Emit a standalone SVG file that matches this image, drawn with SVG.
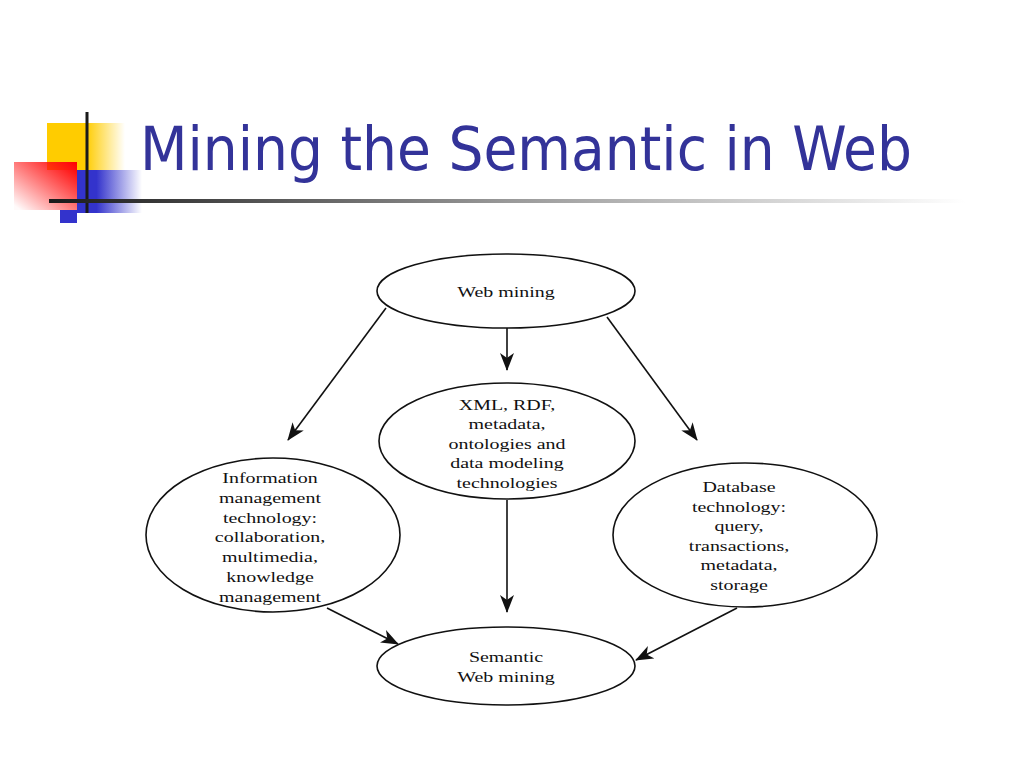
<svg xmlns="http://www.w3.org/2000/svg" width="1024" height="768" viewBox="0 0 1024 768">
<defs>
<linearGradient id="gYellow" x1="0" y1="0" x2="1" y2="0">
<stop offset="0" stop-color="#FFCC00"/>
<stop offset="0.5" stop-color="#FFCC00"/>
<stop offset="1" stop-color="#FFCC00" stop-opacity="0"/>
</linearGradient>
<linearGradient id="gRed" x1="1" y1="0" x2="0" y2="1">
<stop offset="0" stop-color="#FF0000"/>
<stop offset="0.1" stop-color="#FF1010"/>
<stop offset="0.95" stop-color="#FF0000" stop-opacity="0.02"/>
</linearGradient>
<linearGradient id="gBlue" x1="0" y1="0" x2="1" y2="0">
<stop offset="0" stop-color="#3333CC"/>
<stop offset="0.3" stop-color="#3333CC"/>
<stop offset="1" stop-color="#3333CC" stop-opacity="0"/>
</linearGradient>
<linearGradient id="gRule" x1="0" y1="0" x2="1" y2="0">
<stop offset="0" stop-color="#1a1a1a"/>
<stop offset="0.5" stop-color="#999999"/>
<stop offset="1" stop-color="#ffffff"/>
</linearGradient>
<marker id="ah" viewBox="0 0 18 14" refX="17" refY="7" markerWidth="18" markerHeight="14" orient="auto" markerUnits="userSpaceOnUse">
<path d="M0,0 L18,7 L0,14 L5,7 Z" fill="#111"/>
</marker>
<style>
.node ellipse { fill: #fff; stroke: #111; stroke-width: 1.6; }
.node text { font-family: "Liberation Serif", "Times New Roman", serif; font-size: 15.6px; fill: #111; text-anchor: middle; }
.conn line { stroke: #111; stroke-width: 1.6; marker-end: url(#ah); }
.title { font-family: "DejaVu Sans Condensed", "DejaVu Sans", sans-serif; font-size: 61px; fill: #333399; }
</style>
</defs>
<rect width="1024" height="768" fill="#fff"/>

<g id="logo">
<rect x="47" y="123" width="78" height="47" fill="url(#gYellow)"/>
<rect x="14" y="162" width="63" height="48" fill="url(#gRed)"/>
<rect x="77" y="170" width="65" height="43" fill="url(#gBlue)"/>
<rect x="60" y="210" width="17" height="13" fill="#3333CC"/>
<rect x="85.5" y="112" width="3" height="101" fill="#1a1a1a"/>
<rect x="49" y="199" width="916" height="4" fill="url(#gRule)"/>
</g>

<text class="title" x="140" y="170" textLength="772" lengthAdjust="spacingAndGlyphs">Mining the Semantic in Web</text>

<g id="connectors" class="conn">
<line x1="386" y1="308" x2="288" y2="440"/>
<line x1="507" y1="328" x2="507" y2="370"/>
<line x1="607" y1="317" x2="697" y2="440"/>
<line x1="507" y1="500" x2="507" y2="612"/>
<line x1="327" y1="608" x2="398" y2="644"/>
<line x1="737" y1="608" x2="636" y2="660"/>
</g>

<g id="web-mining" class="node">
<ellipse cx="506" cy="291" rx="129" ry="37"/>
<g transform="translate(506 0) scale(1.28 1)"><text x="0" y="297">Web mining</text></g>
</g>

<g id="xml-rdf" class="node">
<ellipse cx="507" cy="441" rx="128" ry="58"/>
<g transform="translate(507 0) scale(1.28 1)">
<text x="0" y="410">XML, RDF,</text>
<text x="0" y="429.5">metadata,</text>
<text x="0" y="449">ontologies and</text>
<text x="0" y="468.5">data modeling</text>
<text x="0" y="488">technologies</text>
</g>
</g>

<g id="info-mgmt" class="node">
<ellipse cx="273" cy="535" rx="127" ry="77"/>
<g transform="translate(270 0) scale(1.28 1)">
<text x="0" y="483">Information</text>
<text x="0" y="502.8">management</text>
<text x="0" y="522.6">technology:</text>
<text x="0" y="542.4">collaboration,</text>
<text x="0" y="562.2">multimedia,</text>
<text x="0" y="582">knowledge</text>
<text x="0" y="601.8">management</text>
</g>
</g>

<g id="database" class="node">
<ellipse cx="745" cy="535" rx="132" ry="72"/>
<g transform="translate(739 0) scale(1.28 1)">
<text x="0" y="492">Database</text>
<text x="0" y="511.6">technology:</text>
<text x="0" y="531.2">query,</text>
<text x="0" y="550.8">transactions,</text>
<text x="0" y="570.4">metadata,</text>
<text x="0" y="590">storage</text>
</g>
</g>

<g id="semantic-web-mining" class="node">
<ellipse cx="506" cy="666" rx="129" ry="39"/>
<g transform="translate(506 0) scale(1.28 1)">
<text x="0" y="662">Semantic</text>
<text x="0" y="682">Web mining</text>
</g>
</g>
</svg>
